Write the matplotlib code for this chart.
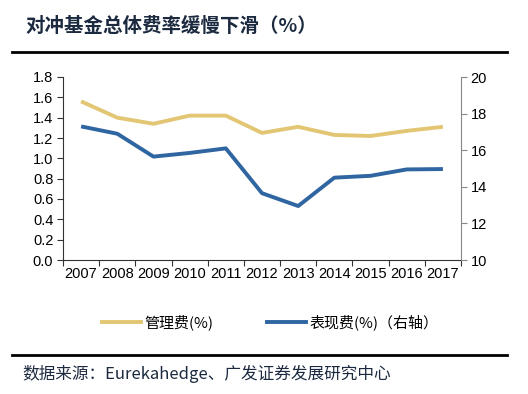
import matplotlib
matplotlib.use("Agg")
import matplotlib.pyplot as plt
from matplotlib.lines import Line2D

plt.rcParams['font.family'] = ['Liberation Sans', 'Noto Sans CJK SC', 'DejaVu Sans']

years = ['2007', '2008', '2009', '2010', '2011', '2012', '2013', '2014', '2015', '2016', '2017']
mgmt_fee = [1.56, 1.40, 1.34, 1.42, 1.42, 1.25, 1.31, 1.23, 1.22, 1.27, 1.31]
perf_fee = [17.3, 16.9, 15.65, 15.85, 16.1, 13.65, 12.95, 14.5, 14.6, 14.95, 14.97]
left_ticks = [0.0, 0.2, 0.4, 0.6, 0.8, 1.0, 1.2, 1.4, 1.6, 1.8]
right_ticks = [10, 12, 14, 16, 18, 20]

yellow = '#E2C673'
blue = '#2F65A0'
navy = '#1C2A40'

fig = plt.figure(figsize=(5.28, 3.94), dpi=100)
ax = fig.add_axes([63/528, 1 - 260/394, (461 - 63)/528, (260 - 77)/394])
ax2 = ax.twinx()

x = list(range(len(years)))
ax.plot(x, mgmt_fee, color=yellow, lw=2.8, solid_capstyle='butt')
ax2.plot(x, perf_fee, color=blue, lw=2.8, solid_capstyle='butt')

ax.set_xlim(-0.5, len(years) - 0.5)
ax.set_ylim(0, 1.8)
ax2.set_ylim(10, 20)
ax.set_yticks(left_ticks)
ax.set_yticklabels([f'{v:.1f}' for v in left_ticks])
ax2.set_yticks(right_ticks)

ax.set_xticks([i - 0.5 for i in range(len(years) + 1)])
ax.set_xticklabels([])
ax.set_xticks(x, minor=True)
ax.set_xticklabels(years, minor=True)
ax.tick_params(axis='x', which='minor', length=0, pad=5, labelsize=10.5)
ax.tick_params(axis='x', which='major', length=4, direction='out', color='#333333')
ax.tick_params(axis='y', length=4, direction='out', labelsize=10.5, color='#333333', pad=3)
ax2.tick_params(axis='y', length=4, direction='out', labelsize=10.5, color='#888888', pad=3)

for a in (ax, ax2):
    a.spines['top'].set_visible(False)
ax.spines['right'].set_visible(False)
ax2.spines['left'].set_visible(False)
ax2.spines['bottom'].set_visible(False)
ax.spines['left'].set_color('#333333')
ax.spines['bottom'].set_color('#333333')
ax2.spines['right'].set_color('#888888')

# Title and rules
fig.text(25/528, 1 - 26/394, '对冲基金总体费率缓慢下滑（%）', fontsize=14, fontweight='heavy',
         color=navy, va='center', ha='left', family=['Noto Sans CJK SC', 'DejaVu Sans'])
fig.add_artist(Line2D([12/528, 507/528], [1 - 52/394, 1 - 52/394], color='black', lw=2))
fig.add_artist(Line2D([12/528, 507/528], [1 - 355/394, 1 - 355/394], color='black', lw=2))
fig.text(22/528, 1 - 374/394, '数据来源：Eurekahedge、广发证券发展研究中心', fontsize=12,
         color=navy, va='center', ha='left', family=['Noto Sans CJK SC', 'DejaVu Sans'])

# Legend
handles = [Line2D([], [], color=yellow, lw=2.8), Line2D([], [], color=blue, lw=2.8)]
fig.legend(handles, ['管理费(%)', '表现费(%)（右轴）'], loc='center',
           bbox_to_anchor=(270/528, 1 - 322/394), ncol=2, frameon=False,
           handlelength=2.6, handletextpad=0.2, columnspacing=3.6,
           prop={'family': ['Noto Sans CJK SC', 'DejaVu Sans'], 'size': 10.8})

fig.savefig('out.png', dpi=100)
